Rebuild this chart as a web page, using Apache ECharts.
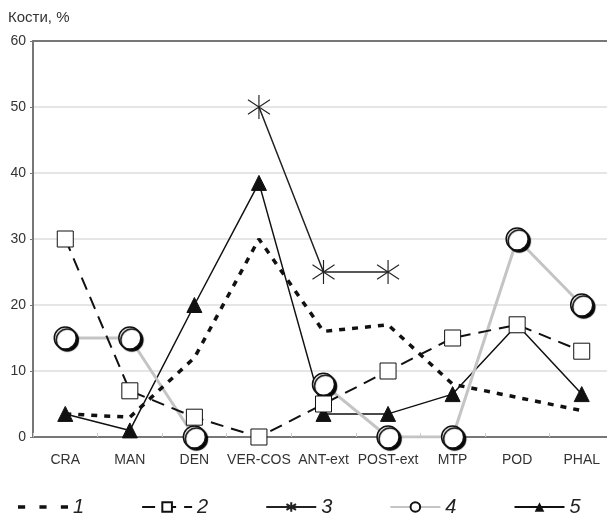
<!DOCTYPE html>
<html><head><meta charset="utf-8">
<script src="https://cdn.jsdelivr.net/npm/echarts@6/dist/echarts.min.js"></script>
<style>html,body{margin:0;padding:0;background:#fff}#c{width:607px;height:516px}</style>
</head><body><div id="c"></div>
<script>
const categories = ['CRA','MAN','DEN','VER-COS','ANT-ext','POST-ext','MTP','POD','PHAL'];
const yTicks = [0,10,20,30,40,50,60];
const s1 = [3.5, 3, 12, 30, 16, 17, 8, 6, 4];
const s2 = [30, 7, 3, 0, 5, 10, 15, 17, 13];
const s3 = [null, null, null, 50, 25, 25, null, null, null];
const s4 = [15, 15, 0, null, 8, 0, 0, 30, 20];
const s5 = [3.5, 1, 20, 38.5, 3.5, 3.5, 6.5, 17, 6.5];
const names = ['1','2','3','4','5'];

const chart = echarts.init(document.getElementById('c'), null, {renderer:'canvas'});
const star = 'path://M0,-10 L0,10 M-9,-6 L9,6 M-9,6 L9,-6';
const dashIcon = 'path://M0,0h7v3.5h-7z M21,0h7v3.5h-7z M42,0h7v3.5h-7z';
const FF = '"Liberation Sans", Arial';
chart.setOption({
  animation:false,
  grid:{left:33,right:-7,top:41,bottom:79,outerBoundsMode:'none'},
  graphic:[{type:'text',left:8,top:10,style:{text:'Кости, %',font:'15px "Liberation Sans", Arial',fill:'#333'}}],
  legend:{
    data:[{name:names[0],icon:dashIcon},names[1],names[2],names[3],names[4]],
    left:13, top:492, itemWidth:50, itemHeight:12, itemGap:57, symbolKeepAspect:true,
    textStyle:{fontFamily:FF,fontStyle:'italic',fontSize:20,color:'#222'}
  },
  xAxis:[{
    type:'category', data:categories, boundaryGap:true,
    axisLine:{lineStyle:{color:'#777',width:2}},
    axisTick:{show:true,inside:true,length:4,lineStyle:{color:'#ccc'}},
    axisLabel:{color:'#333',fontSize:14,margin:16,fontFamily:FF,interval:0},
    splitLine:{show:false}
  },{
    type:'category', data:categories, position:'top',
    axisLine:{lineStyle:{color:'#777',width:2}},
    axisTick:{show:false}, axisLabel:{show:false}
  }],
  yAxis:{
    type:'value', min:yTicks[0], max:yTicks[yTicks.length-1], interval:10,
    axisLine:{show:true,lineStyle:{color:'#777',width:2}},
    axisTick:{show:true,length:3,lineStyle:{color:'#777'}},
    axisLabel:{color:'#333',fontSize:14,margin:7,fontFamily:FF},
    splitLine:{lineStyle:{color:'#e6e6e6',width:2}}
  },
  series:[
    {name:'5',type:'line',data:s5,z:2,symbol:'triangle',symbolSize:15,
      lineStyle:{color:'#111',width:1.5},itemStyle:{color:'#111',borderColor:'#111'}},
    {name:'4',type:'line',data:s4,z:3,symbol:'circle',symbolSize:22,connectNulls:false,
      lineStyle:{color:'#c4c4c4',width:3},
      itemStyle:{color:'#fff',borderColor:'#111',borderWidth:1.5,shadowColor:'#000',shadowOffsetX:2,shadowOffsetY:2,shadowBlur:1}},
    {name:'3',type:'line',data:s3,z:4,symbol:star,symbolSize:[22,24],
      lineStyle:{color:'#222',width:1.5},itemStyle:{color:'none',borderColor:'#222',borderWidth:1.2}},
    {name:'2',type:'line',data:s2,z:5,symbol:'rect',symbolSize:16,
      lineStyle:{color:'#111',width:2,type:[13,8]},itemStyle:{color:'#fff',borderColor:'#111',borderWidth:1}},
    {name:'1',type:'line',data:s1,z:6,symbol:'none',
      lineStyle:{color:'#111',width:3.5,type:[6,7]},itemStyle:{color:'#111'}}
  ]
});
</script></body></html>
